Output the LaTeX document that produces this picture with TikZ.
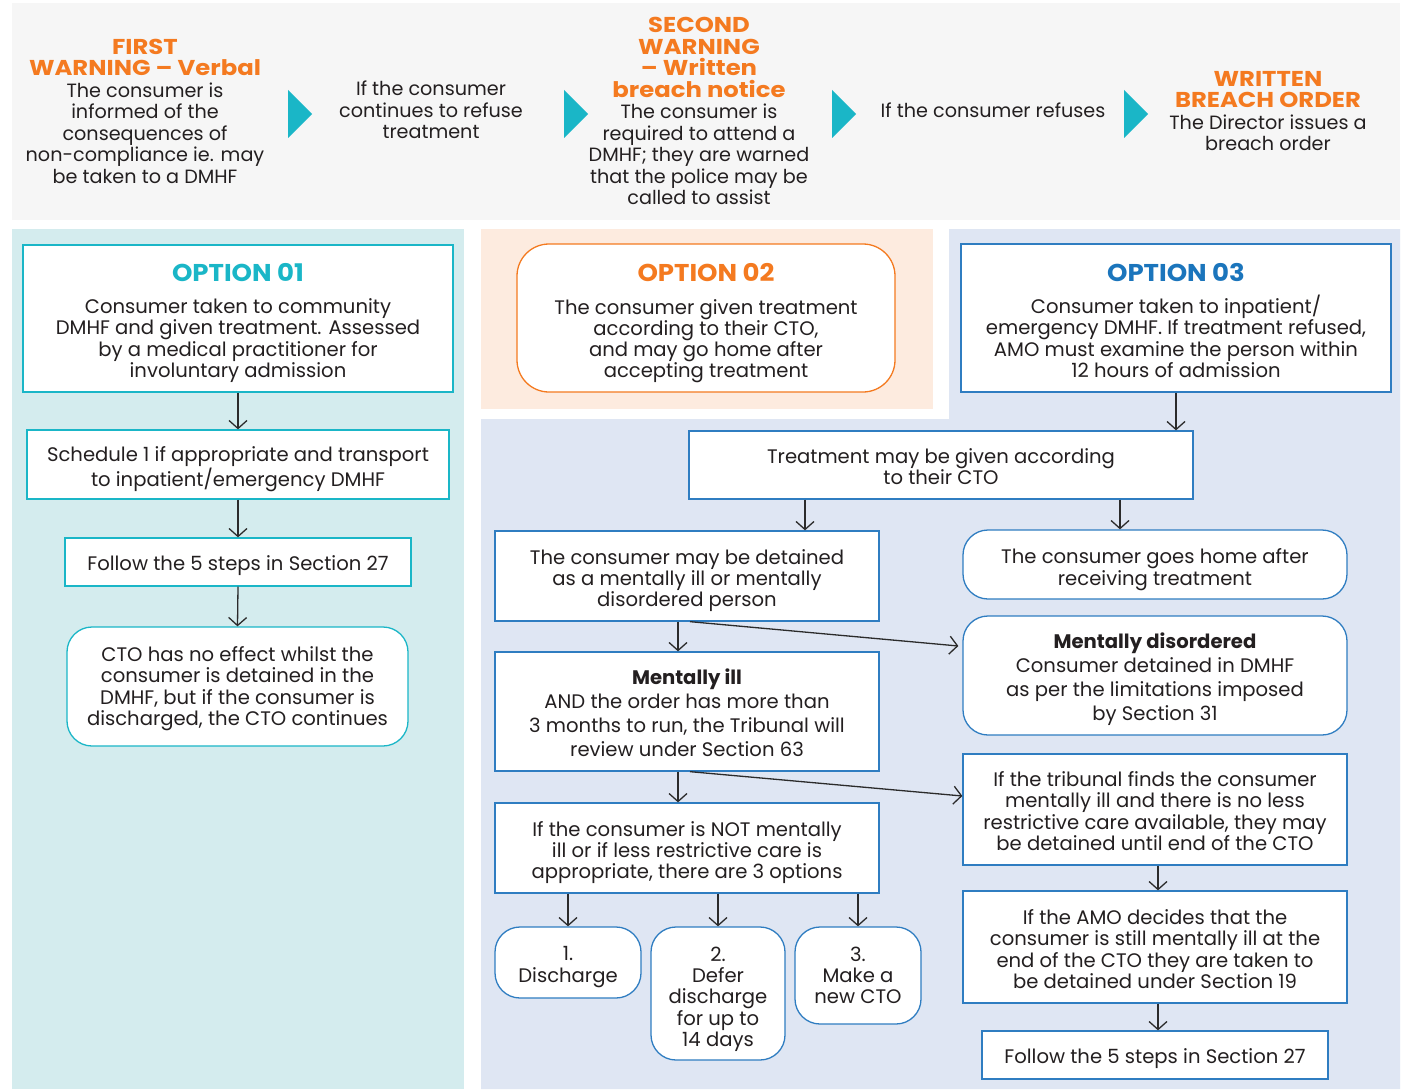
\documentclass[tikz,border=0pt]{standalone}
\usepackage{fontspec}
\setmainfont{Poppins}
\newfontfamily\headfam{Poppins}[FakeStretch=1.13]
\newfontfamily\titlefam{Poppins}[FakeStretch=1.07]
\usetikzlibrary{arrows.meta}
\definecolor{bannerbg}{HTML}{F6F6F6}
\definecolor{tealbg}{HTML}{D4ECEE}
\definecolor{orangebg}{HTML}{FDEBDF}
\definecolor{bluebg}{HTML}{DFE6F3}
\definecolor{tealc}{HTML}{1AB6C7}
\definecolor{orangec}{HTML}{F47A20}
\definecolor{bluet}{HTML}{1B75BC}
\definecolor{blueb}{HTML}{2F7DC1}
\definecolor{arrowc}{HTML}{2B2B2B}
\definecolor{textc}{HTML}{231F20}
\newcommand\bodyf{\fontsize{19.6}{21.3}\selectfont}
\newcommand\banf{\fontsize{19.2}{21.5}\selectfont}
\newcommand\hd[1]{{\headfam\fontsize{21.5}{21.5}\selectfont\bfseries\color{orangec}#1}}
\newcommand\ttl[2]{{\titlefam\fontsize{24.3}{21.3}\selectfont\bfseries\color{#1}#2}}
\newcommand\fs[1]{\rule{0pt}{#1pt}}
\tikzset{
  every node/.style={align=center, inner sep=0pt, text=textc},
  bantext/.style={font=\banf},
  sqbox/.style={draw, fill=white, line width=1.3pt, font=\bodyf},
  rbox/.style={sqbox, rounded corners=25pt},
  arr/.style={draw=arrowc, line width=1.3pt, -{Straight Barb[length=8pt,width=18pt]}},
}
\begin{document}
\begin{tikzpicture}[x=1pt,y=-1pt]
\useasboundingbox (0,0) rectangle (1402,1089);
\fill[white] (0,0) rectangle (1402,1089);
% panels
\fill[bannerbg] (12,3) rectangle (1400,220);
\fill[tealbg] (12,229) rectangle (464,1089);
\fill[orangebg] (481,229) rectangle (933,409);
\fill[bluebg] (949,229) -- (1400,229) -- (1400,1089) -- (481,1089) -- (481,419) -- (949,419) -- cycle;
% banner triangles
\foreach \x in {288,564,832,1124} \fill[tealc] (\x,90) -- (\x+24,114) -- (\x,138) -- cycle;
% banner texts
\node[bantext] (w1) at (145,111) {\hd{FIRST}\\\hd{WARNING – Verbal}\\The consumer is\\informed of the\\consequences of\\non-compliance ie. may\\be taken to a DMHF};
\node[bantext] (c1) at (431,110) {If the consumer\\continues to refuse\\treatment};
\node[bantext] (w2) at (699,111) {\hd{SECOND}\\\hd{WARNING}\\\hd{– Written}\\\hd{breach notice}\\The consumer is\\required to attend a\\DMHF; they are warned\\that the police may be\\called to assist};
\node[bantext] (c2) at (993,110) {If the consumer refuses};
\node[bantext] (w3) at (1268,111) {\hd{WRITTEN}\\\hd{BREACH ORDER}\\The Director issues a\\breach order};
% option 01 column
\node[sqbox, draw=tealc, minimum width=430, minimum height=147] (o1) at (238,318.5)
  {\fs{27}\ttl{tealc}{OPTION 01}\\[11pt]Consumer taken to community\\DMHF and given treatment. Assessed\\by a medical practitioner for\\involuntary admission};
\node[sqbox, draw=tealc, minimum width=422, minimum height=69] (sched) at (238,464.5)
  {\fs{24}Schedule 1 if appropriate and transport\\to inpatient/emergency DMHF};
\node[sqbox, draw=tealc, minimum width=346, minimum height=48] (f1) at (238,562)
  {\rule[-6pt]{0pt}{29pt}Follow the 5 steps in Section 27};
\node[rbox, draw=tealc, minimum width=341, minimum height=119] (cto) at (237.5,686.5)
  {\fs{19}CTO has no effect whilst the\\consumer is detained in the\\DMHF, but if the consumer is\\discharged, the CTO continues};
% option 02
\node[sqbox, draw=orangec, rounded corners=32pt, minimum width=378, minimum height=148] (o2) at (706,318)
  {\fs{29}\ttl{orangec}{OPTION 02}\\[11pt]The consumer given treatment\\according to their CTO,\\and may go home after\\accepting treatment};
% option 03 column
\node[sqbox, draw=blueb, minimum width=430, minimum height=148] (o3) at (1176,318)
  {\fs{23}\ttl{bluet}{OPTION 03}\\[11pt]Consumer taken to inpatient/\\emergency DMHF. If treatment refused,\\AMO must examine the person within\\12 hours of admission};
\node[sqbox, draw=blueb, minimum width=504, minimum height=68] (treat) at (941,465)
  {\fs{18}Treatment may be given according\\to their CTO};
\node[sqbox, draw=blueb, minimum width=384, minimum height=90] (det) at (687,576)
  {\fs{24}The consumer may be detained\\as a mentally ill or mentally\\disordered person};
\node[rbox, draw=blueb, minimum width=384, minimum height=69] (home) at (1155,564.5)
  {\fs{25}The consumer goes home after\\receiving treatment};
\node[sqbox, draw=blueb, minimum width=384, minimum height=119, font=\fontsize{19.6}{24}\selectfont] (mi) at (687,711.5)
  {\fs{18}\textbf{Mentally ill}\\AND the order has more than\\3 months to run, the Tribunal will\\review under Section 63};
\node[rbox, draw=blueb, minimum width=384, minimum height=119, font=\fontsize{19.6}{24}\selectfont] (md) at (1155,675.5)
  {\fs{23}\textbf{Mentally disordered}\\Consumer detained in DMHF\\as per the limitations imposed\\by Section 31};
\node[sqbox, draw=blueb, minimum width=384, minimum height=90] (opts) at (687,848)
  {\fs{24}If the consumer is NOT mentally\\ill or if less restrictive care is\\appropriate, there are 3 options};
\node[sqbox, draw=blueb, minimum width=384, minimum height=111] (trib) at (1155,809.5)
  {\fs{18}If the tribunal finds the consumer\\mentally ill and there is no less\\restrictive care available, they may\\be detained until end of the CTO};
\node[sqbox, draw=blueb, minimum width=384, minimum height=112] (amo) at (1155,947)
  {\fs{19}If the AMO decides that the\\consumer is still mentally ill at the\\end of the CTO they are taken to\\be detained under Section 19};
\node[sqbox, draw=blueb, minimum width=346, minimum height=48] (f2) at (1155,1055)
  {\rule[-6pt]{0pt}{29pt}Follow the 5 steps in Section 27};
\node[rbox, draw=blueb, minimum width=146, minimum height=71] (r1) at (568,962.5) {\fs{23}1.\\Discharge};
\node[rbox, draw=blueb, minimum width=134, minimum height=133] (r2) at (718,993.5) {\fs{26}2.\\Defer\\discharge\\for up to\\14 days};
\node[rbox, draw=blueb, minimum width=126, minimum height=97] (r3) at (858,975.5) {3.\\Make a\\new CTO};
% connectors
\draw[arr] (o1.south) -- (sched.north);
\draw[arr] (sched.south) -- (f1.north);
\draw[arr] (f1.south) -- (cto.north);
\draw[arr] (o3.south) -- (o3.south |- treat.north);
\coordinate (a1) at ([xshift=-136pt]treat.south);
\draw[arr] (a1) -- (a1 |- det.north);
\coordinate (a2) at ([xshift=179pt]treat.south);
\draw[arr] (a2) -- (a2 |- home.north);
\coordinate (a3) at ([xshift=-9pt]det.south);
\draw[arr] (a3) -- (a3 |- mi.north);
\draw[arr] ([xshift=3pt]det.south) -- ([xshift=-4pt,yshift=29.5pt]md.west);
\coordinate (a4) at ([xshift=-9pt]mi.south);
\draw[arr] (a4) -- (a4 |- opts.north);
\draw[arr] ([xshift=3pt]mi.south) -- ([yshift=13.5pt]trib.west);
\coordinate (a5) at ([xshift=3pt]trib.south);
\draw[arr] (a5) -- (a5 |- amo.north);
\coordinate (a6) at ([xshift=3pt]amo.south);
\draw[arr] (a6) -- (a6 |- f2.north);
\draw[arr] (opts.south -| r1.north) -- (r1.north);
\draw[arr] (opts.south -| r2.north) -- (r2.north);
\draw[arr] (opts.south -| r3.north) -- (r3.north);
\end{tikzpicture}
\end{document}
